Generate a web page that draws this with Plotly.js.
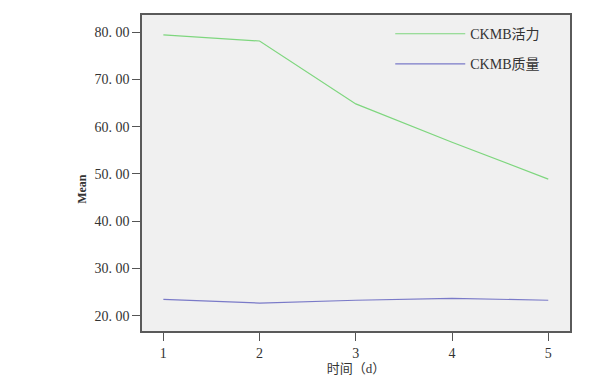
<!DOCTYPE html>
<html>
<head>
<meta charset="utf-8">
<script src="https://cdn.plot.ly/plotly-3.0.1.min.js"></script>
<style>html,body{margin:0;padding:0;background:#fff;}#chart{width:600px;height:379px;}</style>
</head>
<body>
<div id="chart"></div>
<script>
var days = [1, 2, 3, 4, 5];
var ckmbActivity = [79.4, 78.1, 64.8, 56.7, 48.9];
var ckmbMass = [23.5, 22.7, 23.3, 23.7, 23.3];
var yTicks = [20, 30, 40, 50, 60, 70, 80];
var yTickLabels = ["20. 00", "30. 00", "40. 00", "50. 00", "60. 00", "70. 00", "80. 00"];
var seriesNames = ["CKMB活力", "CKMB质量"];

var fontFam = "Liberation Serif, Noto Sans CJK SC, serif";
var traces = [
  {x: days, y: ckmbActivity, name: seriesNames[0], mode: "lines", line: {color: "#7ed67e", width: 1.2}, legendgroup: "a"},
  {x: days, y: ckmbMass, name: seriesNames[1], mode: "lines", line: {color: "#7a7ac8", width: 1.2}, legendgroup: "b"}
];
var layout = {
  width: 600, height: 379,
  margin: {l: 142, r: 30, t: 15, b: 48},
  paper_bgcolor: "#ffffff",
  plot_bgcolor: "#f0f0f0",
  font: {family: fontFam, size: 14, color: "#333"},
  showlegend: true,
  legend: {x: 0.58, xanchor: "left", y: 0.99, yanchor: "top", bgcolor: "rgba(0,0,0,0)",
           itemwidth: 70, traceorder: "grouped", tracegroupgap: 9,
           font: {family: fontFam, size: 14, color: "#333"}},
  xaxis: {range: [0.778, 5.226], tickvals: days, ticktext: days.map(String),
          showgrid: false, zeroline: false, showline: true, mirror: true,
          linecolor: "#5a5a5a", linewidth: 1.5, ticks: "outside", ticklen: 8, tickcolor: "#555",
          tickfont: {family: fontFam, size: 14, color: "#333"},
          title: {text: "时间（d）", standoff: 1, font: {family: fontFam, size: 13, color: "#333"}}},
  yaxis: {range: [16.8, 83.6], tickvals: yTicks, ticktext: yTickLabels,
          showgrid: false, zeroline: false, showline: true, mirror: true,
          linecolor: "#5a5a5a", linewidth: 1.5, ticks: "outside", ticklen: 8, tickcolor: "#555",
          tickfont: {family: fontFam, size: 14, color: "#333"}},
  annotations: [{text: "<b>Mean</b>", textangle: -90, xref: "paper", yref: "paper",
                 x: 0, xanchor: "center", xshift: -60, y: 0.45, yanchor: "middle", showarrow: false,
                 font: {family: fontFam, size: 12, color: "#333"}}]
};
Plotly.newPlot("chart", traces, layout, {displayModeBar: false});
</script>
</body>
</html>
